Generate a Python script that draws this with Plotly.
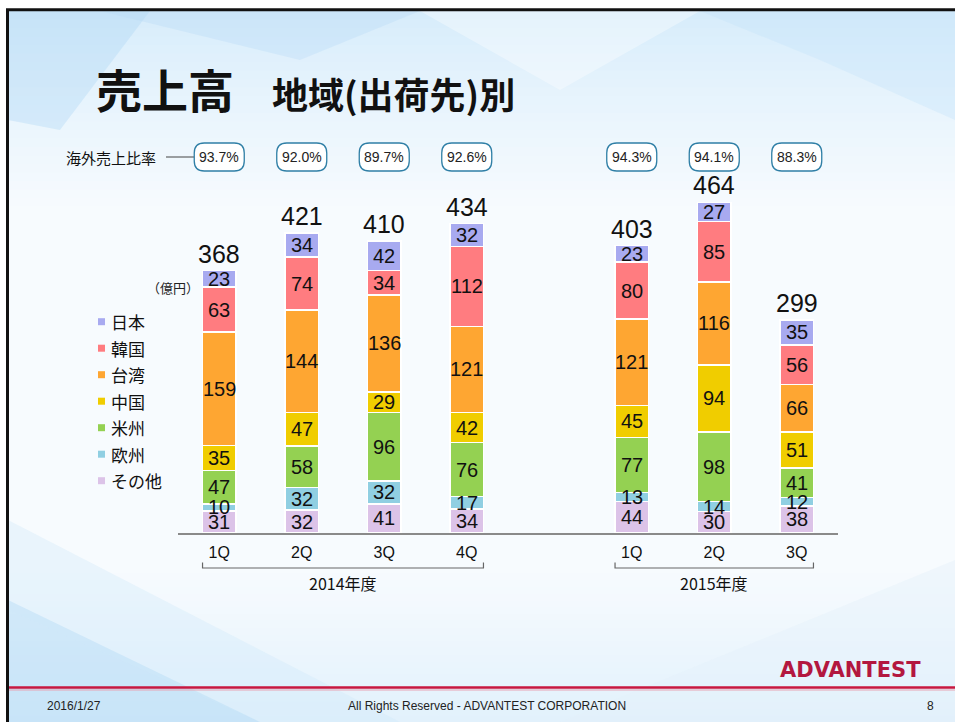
import plotly.graph_objects as go

# ---------------- data ----------------
years = ["2014年度", "2015年度"]
quarters = [["1Q", "2Q", "3Q", "4Q"], ["1Q", "2Q", "3Q"]]

series_names = ["その他", "欧州", "米州", "中国", "台湾", "韓国", "日本"]  # bottom -> top
series_colors = ["#dcc3e8", "#90cfe2", "#94d152", "#f0cd00", "#fea632", "#ff7c80", "#a8aaf0"]
v_other = [31, 32, 41, 34, 44, 30, 38]
v_europe = [10, 32, 32, 17, 13, 14, 12]
v_americas = [47, 58, 96, 76, 77, 98, 41]
v_china = [35, 47, 29, 42, 45, 94, 51]
v_taiwan = [159, 144, 136, 121, 121, 116, 66]
v_korea = [63, 74, 34, 112, 80, 85, 56]
v_japan = [23, 34, 42, 32, 23, 27, 35]
series_values = [v_other, v_europe, v_americas, v_china, v_taiwan, v_korea, v_japan]
totals = [368, 421, 410, 434, 403, 464, 299]
overseas_ratio = [93.7, 92.0, 89.7, 92.6, 94.3, 94.1, 88.3]

# ---------------- geometry helpers ----------------
W, H = 955, 722
L, R, T, B = 178, 838, 170, 533
PW, PH = R - L, B - T
YMAX = PH / 0.7128
XMIN, XMAX = -0.5, 7.5
XU = PW / (XMAX - XMIN)          # px per x unit


def hx(px):
    return (px - L) / PW


def hy(py):
    return (B - py) / PH


# x slots: one empty slot between fiscal years
slots, ticktext, groups = [], [], []
for g, qs in enumerate(quarters):
    grp = []
    for q, lab in enumerate(qs):
        s = g * 5 + q
        slots.append(s)
        ticktext.append(lab)
        grp.append(s)
    groups.append(grp)

NUM = "Liberation Sans Narrow, Liberation Sans, Arial Narrow, sans-serif"
JP = "Noto Sans CJK JP, sans-serif"
LAT = "Liberation Sans, Arial, sans-serif"

fig = go.Figure()
BW = 0.405
for name, col, vals in zip(series_names, series_colors, series_values):
    fig.add_trace(go.Bar(
        x=slots, y=vals, name=name, width=BW,
        marker=dict(color=col, line=dict(color="white", width=1.5)),
        hoverinfo="skip", showlegend=False,
    ))

shapes, ann = [], []

# segment value labels (drawn above all bars, like the original)
cum = [0] * len(slots)
for vals in series_values:
    for i, (s, v) in enumerate(zip(slots, vals)):
        ann.append(dict(xref="x", yref="y", x=s, y=cum[i] + v / 2, xanchor="center", yanchor="middle",
                        text=str(v), showarrow=False, font=dict(family=NUM, size=20, color="#111")))
        cum[i] += v

# ---------- background ----------
shapes.append(dict(type="rect", xref="paper", yref="paper", x0=hx(8), x1=hx(W + 5),
                   y0=hy(H + 5), y1=hy(10), fillcolor="#f7fbfe", line_width=0, layer="below"))


def lerp(c0, c1, t):
    return "rgb(%d,%d,%d)" % tuple(round(a + (b - a) * t) for a, b in zip(c0, c1))


n = 24
top0, top1 = 11, 215
for i in range(n):
    y0 = top0 + (top1 - top0) * i / n
    y1 = top0 + (top1 - top0) * (i + 1) / n
    shapes.append(dict(type="rect", xref="paper", yref="paper", x0=hx(8), x1=hx(W + 5),
                       y0=hy(y1 + 0.5), y1=hy(y0), line_width=0, layer="below",
                       fillcolor=lerp((214, 236, 251), (247, 251, 254), (i / (n - 1)) ** 0.8)))
bot0, bot1 = 560, 722
for i in range(n):
    y0 = bot0 + (bot1 - bot0) * i / n
    y1 = bot0 + (bot1 - bot0) * (i + 1) / n
    shapes.append(dict(type="rect", xref="paper", yref="paper", x0=hx(8), x1=hx(W + 5),
                       y0=hy(y1 + 0.5), y1=hy(y0), line_width=0, layer="below",
                       fillcolor=lerp((247, 251, 254), (226, 241, 252), (i / (n - 1)) ** 1.2)))


def poly(pts, color, op):
    d = "M " + " L ".join("%f,%f" % (hx(a), hy(b)) for a, b in pts) + " Z"
    shapes.append(dict(type="path", xref="paper", yref="paper", path=d, fillcolor=color,
                       opacity=op, line_width=0, layer="below"))


poly([(8, 11), (150, 11), (60, 130), (8, 120)], "#a9d4f4", 0.35)
poly([(100, 11), (420, 11), (300, 60)], "#b6dbf6", 0.35)
poly([(420, 11), (700, 11), (560, 90)], "#ffffff", 0.35)
poly([(700, 11), (955, 11), (955, 120), (820, 60)], "#c2e1f8", 0.35)
poly([(8, 600), (260, 722), (8, 722)], "#a9d4f4", 0.45)
poly([(8, 520), (400, 722), (260, 722), (8, 610)], "#cfe7f9", 0.35)
poly([(560, 722), (955, 560), (955, 722)], "#e4f1fb", 0.4)

# slide frame (top and left) and footer line
shapes.append(dict(type="line", xref="paper", yref="paper", x0=hx(6), x1=hx(W + 5),
                   y0=hy(9.8), y1=hy(9.8), line=dict(color="#111", width=3)))
shapes.append(dict(type="line", xref="paper", yref="paper", x0=hx(7.5), x1=hx(7.5),
                   y0=hy(9), y1=hy(H + 5), line=dict(color="#111", width=3)))
shapes.append(dict(type="line", xref="paper", yref="paper", x0=hx(9), x1=hx(W + 5),
                   y0=hy(687.5), y1=hy(687.5), line=dict(color="#c8173f", width=2.5)))
shapes.append(dict(type="line", xref="paper", yref="paper", x0=hx(9), x1=hx(W + 5),
                   y0=hy(690), y1=hy(690), line=dict(color="#e7a3b3", width=1)))

# ---------- titles ----------
ann.append(dict(xref="paper", yref="paper", x=hx(94), y=hy(88), xanchor="left", yanchor="middle",
                text="<b>売上高</b>", showarrow=False, font=dict(family=JP, size=46, color="#111")))
ann.append(dict(xref="paper", yref="paper", x=hx(270), y=hy(93), xanchor="left", yanchor="middle",
                text="<b>地域(出荷先)別</b>", showarrow=False, font=dict(family=JP, size=36, color="#111")))

# ---------- overseas sales ratio row ----------
BOXY, BOXH, BOXW, RAD = 157, 28, 50, 10
ann.append(dict(xref="paper", yref="paper", x=hx(158), y=hy(BOXY), xanchor="right", yanchor="middle",
                text="海外売上比率", showarrow=False, font=dict(family=JP, size=15, color="#111")))
shapes.append(dict(type="line", xref="paper", yref="paper", x0=hx(166), x1=hx(194),
                   y0=hy(BOXY), y1=hy(BOXY), line=dict(color="#444", width=1)))
for s, r in zip(slots, overseas_ratio):
    x0, x1 = s - BOXW / 2 / XU, s + BOXW / 2 / XU
    yt, yb = hy(BOXY - BOXH / 2), hy(BOXY + BOXH / 2)
    rx, ry = RAD / XU, RAD / PH
    d = (f"M {x0+rx},{yt} L {x1-rx},{yt} Q {x1},{yt} {x1},{yt-ry} L {x1},{yb+ry} "
         f"Q {x1},{yb} {x1-rx},{yb} L {x0+rx},{yb} Q {x0},{yb} {x0},{yb+ry} "
         f"L {x0},{yt-ry} Q {x0},{yt} {x0+rx},{yt} Z")
    shapes.append(dict(type="path", xref="x", yref="paper", path=d, fillcolor="white",
                       line=dict(color="#2f7fa6", width=1.3)))
    ann.append(dict(xref="x", yref="paper", x=s, y=hy(BOXY), xanchor="center", yanchor="middle",
                    text=f"{r:.1f}%", showarrow=False, font=dict(family=NUM, size=14, color="#222")))

# ---------- totals ----------
for s, t in zip(slots, totals):
    ann.append(dict(xref="x", yref="y", x=s, y=t, yshift=17, xanchor="center", yanchor="middle",
                    text=str(t), showarrow=False, font=dict(family=NUM, size=25, color="#111")))

ann.append(dict(xref="paper", yref="paper", x=hx(201), y=hy(287), xanchor="right", yanchor="middle",
                text="（億円）", showarrow=False, font=dict(family=JP, size=13, color="#222")))

# ---------- legend (custom) ----------
for i, (name, col) in enumerate(zip(series_names[::-1], series_colors[::-1])):
    cy = 321.7 + i * 26.5
    shapes.append(dict(type="rect", xref="paper", yref="paper", x0=hx(98), x1=hx(105),
                       y0=hy(cy + 3.5), y1=hy(cy - 3.5), fillcolor=col, line_width=0))
    ann.append(dict(xref="paper", yref="paper", x=hx(109), y=hy(cy), xanchor="left", yanchor="middle",
                    text=name, showarrow=False, font=dict(family=JP, size=17, color="#111")))

# ---------- fiscal year brackets ----------
for yname, grp in zip(years, groups):
    xa, xb = grp[0] - BW / 2, grp[-1] + BW / 2
    ya, yb = hy(562.5), hy(568)
    shapes.append(dict(type="path", xref="x", yref="paper",
                       path=f"M {xa},{ya} L {xa},{yb} L {xb},{yb} L {xb},{ya}",
                       line=dict(color="#666", width=1.2)))
    ann.append(dict(xref="x", yref="paper", x=(grp[0] + grp[-1]) / 2, y=hy(583), xanchor="center",
                    yanchor="middle", text=yname, showarrow=False,
                    font=dict(family=JP, size=16, color="#111")))

# ---------- footer ----------
ann.append(dict(xref="paper", yref="paper", x=hx(778), y=hy(670), xanchor="left", yanchor="middle",
                text="<b>ADVANTEST</b>", showarrow=False,
                font=dict(family="DejaVu Sans", size=21, color="#b3173f")))
ann.append(dict(xref="paper", yref="paper", x=hx(45), y=hy(706), xanchor="left", yanchor="middle",
                text="2016/1/27", showarrow=False, font=dict(family=LAT, size=12, color="#222")))
ann.append(dict(xref="paper", yref="paper", x=hx(487), y=hy(706), xanchor="center", yanchor="middle",
                text="All Rights Reserved - ADVANTEST CORPORATION", showarrow=False,
                font=dict(family=LAT, size=12, color="#222")))
ann.append(dict(xref="paper", yref="paper", x=hx(930), y=hy(706), xanchor="center", yanchor="middle",
                text="8", showarrow=False, font=dict(family=LAT, size=12, color="#222")))

fig.update_layout(
    width=W, height=H, autosize=False,
    margin=dict(l=L, r=W - R, t=T, b=H - B, pad=0),
    paper_bgcolor="white", plot_bgcolor="rgba(0,0,0,0)",
    barmode="stack", showlegend=False,
    xaxis=dict(range=[XMIN, XMAX], tickvals=slots, ticktext=ticktext, showgrid=False,
               zeroline=False, showline=True, linecolor="#8a8a8a", linewidth=1.5, ticks="",
               tickfont=dict(family=NUM, size=16, color="#111"), ticklabelstandoff=4,
               automargin=False, fixedrange=True),
    yaxis=dict(range=[0, YMAX], visible=False, fixedrange=True, automargin=False),
    shapes=shapes, annotations=ann,
)

fig.write_html("out.html")
